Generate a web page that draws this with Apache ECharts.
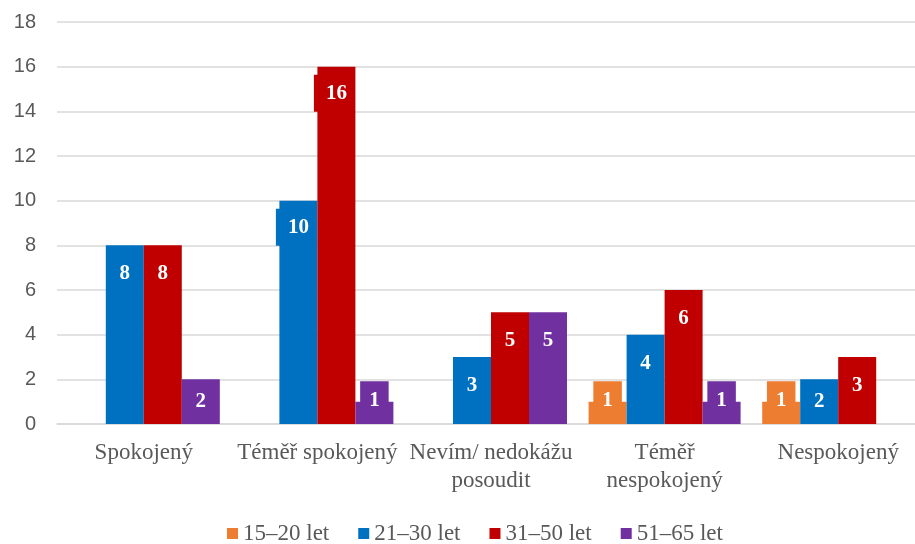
<!DOCTYPE html>
<html>
<head>
<meta charset="utf-8">
<script src="https://cdn.jsdelivr.net/npm/echarts@6/dist/echarts.min.js"></script>
<style>html,body{margin:0;padding:0;background:#fff;overflow:hidden;}#c{width:925px;height:544px;}</style>
</head>
<body>
<div id="c"></div>
<script>
const categories = ['Spokojený', 'Téměř spokojený', 'Nevím/ nedokážu\nposoudit', 'Téměř\nnespokojený', 'Nespokojený'];
const seriesNames = ['15–20 let', '21–30 let', '31–50 let', '51–65 let'];
const s1520 = [0, 0, 0, 1, 1];
const s2130 = [8, 10, 3, 4, 2];
const s3150 = [8, 16, 5, 6, 3];
const s5165 = [2, 1, 5, 1, 0];
const yTicks = [0, 2, 4, 6, 8, 10, 12, 14, 16, 18];
const colors = ['#ED7D31', '#0070C0', '#C00000', '#7030A0'];

const allValues = [s1520, s2130, s3150, s5165];

function labelFor(v, color) {
  if (v === 1) {
    return {position: 'inside', offset: [0, -12], backgroundColor: color, padding: [14, 9, 4, 9]};
  }
  if (v === 2) {
    return {position: 'inside'};
  }
  if (v >= 10) {
    return {position: 'insideTop', distance: 8, backgroundColor: color, padding: [8, 4, 8, 12], offset: [-4, 0]};
  }
  return {position: 'insideTop', distance: 18};
}

const series = allValues.map((vals, i) => ({
  name: seriesNames[i],
  type: 'bar',
  barWidth: 38,
  barGap: '0%',
  itemStyle: {color: colors[i]},
  label: {
    show: true,
    color: '#fff',
    fontFamily: 'Liberation Serif',
    fontWeight: 'bold',
    fontSize: 21,
    formatter: p => (p.value ? String(p.value) : '')
  },
  data: vals.map(v => ({value: v, label: labelFor(v, colors[i])}))
}));

const chart = echarts.init(document.getElementById('c'), null, {renderer: 'canvas'});
chart.setOption({
  animation: false,
  backgroundColor: '#fff',
  color: colors,
  grid: {left: 57, top: 22, right: 0, height: 402, containLabel: false},
  legend: {
    data: seriesNames,
    top: 517,
    left: 222,
    itemWidth: 11,
    itemHeight: 11,
    itemGap: 29,
    icon: 'rect',
    textStyle: {fontFamily: 'Liberation Serif', fontSize: 23, color: '#595959'}
  },
  xAxis: {
    type: 'category',
    data: categories,
    axisLine: {show: true, lineStyle: {color: '#d9d9d9', width: 1.5}},
    axisTick: {show: false},
    axisLabel: {
      interval: 0,
      margin: 15,
      fontFamily: 'Liberation Serif',
      fontSize: 23,
      lineHeight: 28,
      color: '#595959'
    }
  },
  yAxis: {
    type: 'value',
    min: 0,
    max: 18,
    interval: 2,
    axisLine: {show: false},
    axisTick: {show: false},
    axisLabel: {
      margin: 21,
      fontFamily: 'Liberation Sans',
      fontSize: 20,
      color: '#595959',
      formatter: v => (yTicks.includes(v) ? String(v) : '')
    },
    splitLine: {lineStyle: {color: '#d9d9d9', width: 1.5}}
  },
  series: series
});
</script>
</body>
</html>
